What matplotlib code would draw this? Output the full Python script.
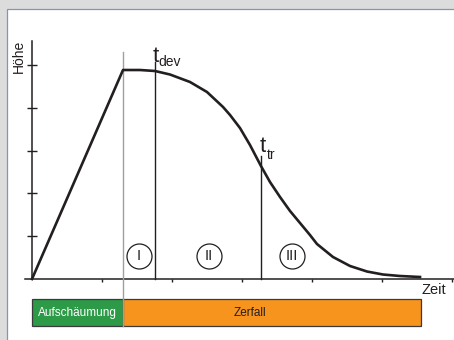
import matplotlib
matplotlib.use("Agg")
import matplotlib.pyplot as plt
from matplotlib.patches import Rectangle

plt.rcParams['font.family'] = ['Liberation Sans', 'DejaVu Sans']

# Hoehenverlauf (Zeit, Hoehe) in Tick-Einheiten
zeit = [0.0, 1.300, 1.543, 1.757, 1.971, 2.257, 2.500, 2.729, 2.829, 2.971,
        3.114, 3.271, 3.400, 3.543, 3.686, 3.829, 3.971, 4.071, 4.300, 4.543,
        4.786, 5.014, 5.257, 5.543]
hoehe = [0.0, 4.883, 4.883, 4.860, 4.778, 4.603, 4.369, 4.019, 3.832, 3.528,
         3.131, 2.640, 2.266, 1.916, 1.589, 1.308, 1.028, 0.818, 0.514, 0.304,
         0.175, 0.105, 0.070, 0.047]

t_schaum = 1.30
t_dev = 1.757
t_tr = 3.271
t_ende = 5.557

phasen = ["I", "II", "III"]
phasen_x = [1.529, 2.529, 3.714]

balken = ["Aufschäumung", "Zerfall"]
balken_farben = ["#2c9a47", "#f7941e"]
balken_text_farben = ["white", "#231f20"]
balken_text_x = [0.643, 3.114]

x_ticks = [1, 2, 3, 4, 5, 6]
y_ticks = [1, 2, 3, 4, 5]

fig = plt.figure(figsize=(4.54, 3.4), dpi=100)
fig.patch.set_facecolor("#dcdcdd")
panel = Rectangle((6.5 / 454, -0.01), 1, 331.5 / 340 + 0.01, transform=fig.transFigure,
                  facecolor="white", edgecolor="#8396ae", linewidth=0.9, zorder=-10)
fig.patches.append(panel)

ax = fig.add_axes([0, 0, 1, 1])
ax.set_facecolor("none")
ax.set_xlim(-32 / 70, 422 / 70)
ax.set_ylim(-61 / 42.8, 279 / 42.8)

ink = "#231f20"
for s in ["top", "right"]:
    ax.spines[s].set_visible(False)
ax.spines["left"].set_position(("data", 0))
ax.spines["bottom"].set_position(("data", 0))
ax.spines["left"].set_bounds(0, 5.56)
ax.spines["bottom"].set_bounds(-0.1, 6.1)
for s in ["left", "bottom"]:
    ax.spines[s].set_linewidth(1.1)
    ax.spines[s].set_color(ink)
ax.set_xticks(x_ticks)
ax.set_yticks(y_ticks)
ax.set_xticklabels([])
ax.set_yticklabels([])
ax.tick_params(axis="x", direction="out", length=2.5, width=1.0, color=ink)
ax.tick_params(axis="y", direction="inout", length=6.5, width=1.0, color=ink)

# Kurve
ax.plot(zeit, hoehe, color=ink, lw=1.9, solid_joinstyle="round", zorder=4)

# Ereignislinien
ax.plot([t_schaum, t_schaum], [-1.10, 5.30], color="#a0a0a3", lw=1.0, zorder=3)
ax.plot([t_dev, t_dev], [0, 5.07], color=ink, lw=1.0, zorder=3)
ax.plot([t_tr, t_tr], [0, 2.87], color=ink, lw=1.0, zorder=3)

ax.text(t_dev - 0.03, 5.07, "t", fontsize=16, color=ink, ha="left", va="baseline")
ax.text(t_dev + 0.055, 4.977, "dev", fontsize=10, color=ink, ha="left", va="baseline")
ax.text(t_tr - 0.015, 2.967, "t", fontsize=16, color=ink, ha="left", va="baseline")
ax.text(t_tr + 0.085, 2.81, "tr", fontsize=10, color=ink, ha="left", va="baseline")

# Phasen
ax.plot(phasen_x, [0.537] * len(phasen_x), "o", ms=18, mfc="white", mec=ink, mew=0.9,
        linestyle="none", zorder=5)
for px, lab in zip(phasen_x, phasen):
    ax.text(px, 0.53, lab, fontsize=10.5, color=ink, ha="center", va="center", zorder=6)

# Balken
ax.barh(-0.78, t_schaum, height=0.63, left=0, color=balken_farben[0],
        edgecolor="#3a3a3a", linewidth=0.9, zorder=2)
ax.barh(-0.78, t_ende - t_schaum, height=0.63, left=t_schaum, color=balken_farben[1],
        edgecolor="#3a3a3a", linewidth=0.9, zorder=2)
for bx, lab, c in zip(balken_text_x, balken, balken_text_farben):
    ax.text(bx, -0.79, lab, fontsize=8.5, color=c, ha="center", va="center", zorder=6)

ax.text(5.743, -0.26, "Zeit", fontsize=10.5, color=ink, ha="center", va="center")
ax.text(-0.186, 5.19, "Höhe", fontsize=10, color=ink, ha="center", va="center", rotation=90)

fig.savefig("out.png", dpi=100)
